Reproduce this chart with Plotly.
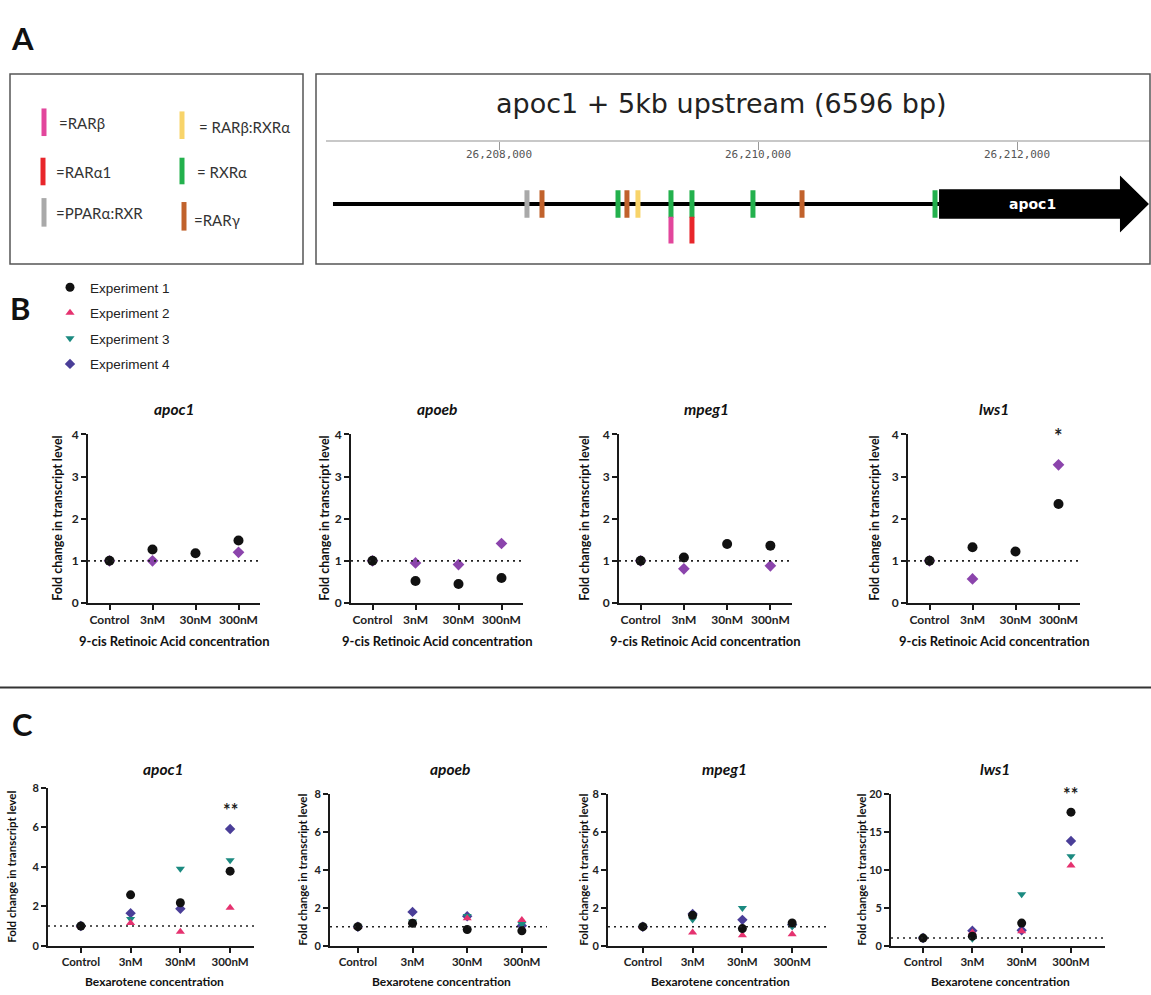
import plotly.graph_objects as go

W, H = 1151, 995
def PX(x):
    return x / W
def PY(y):
    return 1 - y / H

# ---------------- data ----------------
categories = ["Control", "3nM", "30nM", "300nM"]
genes = ["apoc1", "apoeb", "mpeg1", "lws1"]
experiments = ["Experiment 1", "Experiment 2", "Experiment 3", "Experiment 4"]

# B: 9-cis Retinoic Acid (fold change)
ra_apoc1_exp1 = [1.00, 1.27, 1.18, 1.48]
ra_apoc1_exp4 = [1.00, 1.00, None, 1.20]
ra_apoeb_exp1 = [1.00, 0.52, 0.45, 0.59]
ra_apoeb_exp4 = [1.00, 0.95, 0.91, 1.41]
ra_mpeg1_exp1 = [1.00, 1.08, 1.40, 1.36]
ra_mpeg1_exp4 = [1.00, 0.81, None, 0.88]
ra_lws1_exp1 = [1.00, 1.32, 1.22, 2.35]
ra_lws1_exp4 = [1.00, 0.57, None, 3.28]

# C: Bexarotene (fold change)
bex_apoc1_exp1 = [1.00, 2.58, 2.18, 3.78]
bex_apoc1_exp2 = [1.00, 1.15, 0.70, 1.93]
bex_apoc1_exp3 = [1.00, 1.35, 3.90, 4.33]
bex_apoc1_exp4 = [1.00, 1.65, 1.87, 5.92]
bex_apoeb_exp1 = [1.00, 1.18, 0.85, 0.78]
bex_apoeb_exp2 = [1.00, 1.22, 1.44, 1.35]
bex_apoeb_exp3 = [1.00, 1.28, 1.56, 1.14]
bex_apoeb_exp4 = [1.00, 1.78, 1.55, 1.05]
bex_mpeg1_exp1 = [1.00, 1.60, 0.90, 1.20]
bex_mpeg1_exp2 = [1.00, 0.69, 0.55, 0.60]
bex_mpeg1_exp3 = [1.00, 1.38, 1.98, 1.02]
bex_mpeg1_exp4 = [1.00, 1.67, 1.36, 1.10]
bex_lws1_exp1 = [1.00, 1.25, 2.97, 17.6]
bex_lws1_exp2 = [1.00, 1.72, 1.90, 10.56]
bex_lws1_exp3 = [1.00, 0.90, 6.77, 11.8]
bex_lws1_exp4 = [1.00, 1.98, 2.03, 13.8]

# significance labels (gene, category index, label)
ra_sig = [("lws1", 3, "*")]
bex_sig = [("apoc1", 3, "**"), ("lws1", 3, "**")]

# A: binding sites in apoc1 + 5kb upstream
region_start = 26206718
region_length = 6596
gene_name = "apoc1"
gene_start = 26211398
gene_end = 26213019
site_pos = [26208216, 26208332, 26208919, 26208988, 26209073, 26209328,
            26209328, 26209490, 26209490, 26209961, 26210340, 26211367]
site_factor = ["PPARα:RXR", "RARγ", "RXRα", "RARγ", "RARβ:RXRα", "RXRα",
               "RARβ", "RXRα", "RARα1", "RXRα", "RARγ", "RXRα"]
factor_names = ["RARβ", "RARα1", "PPARα:RXR", "RARβ:RXRα", "RXRα", "RARγ"]
factor_labels = ["=RARβ", "=RARα1", "=PPARα:RXR", "= RARβ:RXRα", "= RXRα", "=RARγ"]

# ---------------- styles ----------------
factor_colors = {"RARβ": "#e2469c", "RARα1": "#e8262b", "PPARα:RXR": "#a9a9a9",
                 "RARβ:RXRα": "#f8d46a", "RXRα": "#23b14d", "RARγ": "#c1622c"}
exp_symbols = ["circle", "triangle-up", "triangle-down", "diamond"]
exp_colors_b = ["#111111", "#e5326f", "#1b8a80", "#8b44ac"]
exp_colors_c = ["#111111", "#e5326f", "#1b8a80", "#4a3e98"]
size_b = [10, 8, 8, 9]
size_c = [9, 8, 8, 8]

TICKF = "Lato"
fig = go.Figure()

b_series = [
    [ra_apoc1_exp1, None, None, ra_apoc1_exp4],
    [ra_apoeb_exp1, None, None, ra_apoeb_exp4],
    [ra_mpeg1_exp1, None, None, ra_mpeg1_exp4],
    [ra_lws1_exp1, None, None, ra_lws1_exp4],
]
c_series = [
    [bex_apoc1_exp1, bex_apoc1_exp2, bex_apoc1_exp3, bex_apoc1_exp4],
    [bex_apoeb_exp1, bex_apoeb_exp2, bex_apoeb_exp3, bex_apoeb_exp4],
    [bex_mpeg1_exp1, bex_mpeg1_exp2, bex_mpeg1_exp3, bex_mpeg1_exp4],
    [bex_lws1_exp1, bex_lws1_exp2, bex_lws1_exp3, bex_lws1_exp4],
]

b_xdom = [(88, 260), (351, 523), (619, 792), (908, 1080)]
b_ydom = (433, 604)
c_xdom = [(48, 254), (330, 547), (608, 827), (891, 1105)]
c_ytop = [792, 798, 798, 798]
c_ybot = 952
c_xrange = [(-0.66, 3.48), (-0.51, 3.46), (-0.70, 3.70), (-0.65, 3.69)]
c_ymax = [8, 8, 8, 20]
c_dtick = [2, 2, 2, 5]
c_sig_shift = [-22, 0, 0, 0]
b_ytitle_x = [58, 325, 585, 875]
c_ytitle_x = [12, 303, 584, 862]
b_title_x = [174, 437, 706, 994]
c_title_x = [163, 450, 724, 995]

layout = dict(width=W, height=H, margin=dict(l=0, r=0, t=0, b=0),
              paper_bgcolor="white", plot_bgcolor="rgba(0,0,0,0)")
annotations = []
shapes = []

def note(text, x, y, size, family=TICKF, xanchor="center", yanchor="middle", **kw):
    font = dict(family=family, size=size, color=kw.pop("color", "#111"))
    for k in ("weight", "style"):
        if k in kw:
            font[k] = kw.pop(k)
    d = dict(text=text, x=x, y=y, xref=kw.pop("xref", "paper"), yref=kw.pop("yref", "paper"),
             xanchor=xanchor, yanchor=yanchor, showarrow=False, font=font)
    d.update(kw)
    annotations.append(d)

def cat_axis(dom, rng, anchor, fsize):
    return dict(domain=[PX(dom[0]), PX(dom[1])], range=list(rng), type="category",
                categoryorder="array", categoryarray=categories, anchor=anchor,
                showline=True, linecolor="#1a1a1a", linewidth=2, ticks="outside",
                ticklen=5, tickwidth=2, tickcolor="#1a1a1a", showgrid=False, zeroline=False,
                tickfont=dict(family=TICKF, size=fsize, color="#222", weight="bold"))

def val_axis(ydom, ymax, dtick, anchor, fsize):
    return dict(domain=[PY(ydom[1]), PY(ydom[0])], range=[0, ymax], dtick=dtick, tick0=0,
                anchor=anchor, showline=True, linecolor="#1a1a1a", linewidth=2,
                ticks="outside", ticklen=5, tickwidth=2, tickcolor="#1a1a1a",
                showgrid=False, zeroline=False,
                tickfont=dict(family=TICKF, size=fsize, color="#222", weight="bold"))

# ---- B panels ----
for i in range(4):
    n = i + 1
    xa, ya = ("x%d" % n if n > 1 else "x"), ("y%d" % n if n > 1 else "y")
    layout["xaxis%s" % ("" if n == 1 else n)] = cat_axis(b_xdom[i], (-0.5, 3.5), ya, 12)
    layout["yaxis%s" % ("" if n == 1 else n)] = val_axis(b_ydom, 4, 1, xa, 12)
    for e in [3, 2, 1, 0]:
        vals = b_series[i][e]
        if vals is None:
            continue
        fig.add_trace(go.Scatter(x=categories, y=vals, mode="markers", xaxis=xa, yaxis=ya,
                                 name=experiments[e], showlegend=False,
                                 marker=dict(symbol=exp_symbols[e], color=exp_colors_b[e],
                                             size=size_b[e], line=dict(width=0))))
    shapes.append(dict(type="line", xref="%s domain" % xa, yref=ya, x0=0, x1=1, y0=1, y1=1,
                       line=dict(color="#222", width=1.8, dash="2px,4px")))
    note(genes[i], PX(b_title_x[i]), PY(407), 15.5, weight="bold", style="italic")
    note("Fold change in transcript level", PX(b_ytitle_x[i]), PY((b_ydom[0] + b_ydom[1]) / 2),
         12.5, weight="bold", textangle=-90)
    note("9-cis Retinoic Acid concentration", PX((b_xdom[i][0] + b_xdom[i][1]) / 2), PY(643),
         13, weight="bold")
    for g, ci, lab in ra_sig:
        if g == genes[i]:
            note(lab, ci, 4, 20, xref=xa, yref=ya, yshift=-2, color="#222", weight="bold")

# ---- C panels ----
for i in range(4):
    n = i + 5
    xa, ya = "x%d" % n, "y%d" % n
    layout["xaxis%d" % n] = cat_axis(c_xdom[i], c_xrange[i], ya, 11.5)
    layout["xaxis%d" % n]["linewidth"] = 1.8
    layout["yaxis%d" % n] = val_axis((c_ytop[i], c_ybot), c_ymax[i], c_dtick[i], xa, 11)
    layout["yaxis%d" % n]["linewidth"] = 1.8
    for e in [3, 2, 1, 0]:
        fig.add_trace(go.Scatter(x=categories, y=c_series[i][e], mode="markers", xaxis=xa, yaxis=ya,
                                 name=experiments[e], legendgroup=experiments[e],
                                 legendrank=e + 1, showlegend=(i == 0),
                                 marker=dict(symbol=exp_symbols[e], color=exp_colors_c[e],
                                             size=size_c[e], line=dict(width=0))))
    shapes.append(dict(type="line", xref="%s domain" % xa, yref=ya, x0=0, x1=1, y0=1, y1=1,
                       line=dict(color="#222", width=1.6, dash="2px,4px")))
    note(genes[i], PX(c_title_x[i]), PY(773), 15.5, weight="bold", style="italic")
    note("Fold change in transcript level", PX(c_ytitle_x[i]), PY((c_ytop[i] + c_ybot) / 2),
         11.5, weight="bold", textangle=-90)
    note("Bexarotene concentration", PX((c_xdom[i][0] + c_xdom[i][1]) / 2 + 3), PY(988),
         12, weight="bold")
    for g, ci, lab in bex_sig:
        if g == genes[i]:
            note(lab, ci, c_ymax[i], 18, xref=xa, yref=ya, yshift=c_sig_shift[i], color="#222",
                 weight="bold")

# ---- A: genome track ----
bp_per_px = 2000 / 259.0
def bp_at(pxv):
    return 26210000 + (pxv - 758) * bp_per_px
gx0, gx1 = 326, 1150
layout["xaxis9"] = dict(domain=[PX(gx0), PX(gx1)], range=[bp_at(gx0), bp_at(gx1)], anchor="y9",
                        side="top", showline=True, linecolor="#c8c8c8", linewidth=2,
                        ticks="inside", ticklen=8, tickwidth=1.2, tickcolor="#999",
                        ticklabelposition="inside", dtick=2000, tick0=0, tickformat=",d",
                        showgrid=False, zeroline=False,
                        tickfont=dict(family="DejaVu Sans Mono", size=11, color="#555"))
layout["yaxis9"] = dict(domain=[PY(247), PY(136)], range=[111, 0], anchor="x9", visible=False,
                        showgrid=False, zeroline=False)

LINE_Y = 63
head_len = 29 * bp_per_px
head_start = gene_end - head_len
fig.add_trace(go.Scatter(x=[region_start, gene_start], y=[LINE_Y, LINE_Y], mode="lines",
                         xaxis="x9", yaxis="y9", showlegend=False,
                         line=dict(color="black", width=4)))
fig.add_trace(go.Scatter(x=[gene_start, head_start, head_start, gene_end, head_start, head_start, gene_start],
                         y=[LINE_Y - 15, LINE_Y - 15, LINE_Y - 29, LINE_Y, LINE_Y + 29, LINE_Y + 15, LINE_Y + 15],
                         mode="lines", fill="toself", fillcolor="black", line=dict(width=0, color="black"),
                         xaxis="x9", yaxis="y9", showlegend=False))
note("<b>%s</b>" % gene_name, (gene_start + head_start) / 2 + 3 * bp_per_px, LINE_Y, 14,
     family="DejaVu Sans", xref="x9", yref="y9", color="white")
seen = set()
for p, f in zip(site_pos, site_factor):
    lane = 1 if p in seen else 0
    seen.add(p)
    y0, y1 = (LINE_Y - 14, LINE_Y + 14) if lane == 0 else (LINE_Y + 13, LINE_Y + 40)
    shapes.append(dict(type="line", xref="x9", yref="y9", x0=p, x1=p, y0=y0, y1=y1,
                       line=dict(color=factor_colors[f], width=5)))

note("%s + 5kb upstream (%d bp)" % (gene_name, region_length), PX(721), PY(97), 27,
     family="DejaVu Sans", color="#222")

# ---- A: legend box ----
legA_pos = {"RARβ": (44, 102, 130, 57, 117), "RARα1": (43, 152, 180, 54, 167),
            "PPARα:RXR": (44, 193, 222, 54, 208), "RARβ:RXRα": (182, 105, 133, 197, 121),
            "RXRα": (182, 152, 179, 195, 167), "RARγ": (184, 197, 226, 192, 215)}
for name, lab in zip(factor_names, factor_labels):
    bx, y0, y1, tx, ty = legA_pos[name]
    shapes.append(dict(type="line", xref="paper", yref="paper", x0=PX(bx), x1=PX(bx),
                       y0=PY(y0), y1=PY(y1), line=dict(color=factor_colors[name], width=5)))
    note(lab, PX(tx), PY(ty), 15, xanchor="left", color="#333")

# boxes & separator
shapes.append(dict(type="rect", xref="paper", yref="paper", x0=PX(10), x1=PX(303), y0=PY(260), y1=PY(67),
                   line=dict(color="#555", width=1.5)))
shapes.append(dict(type="rect", xref="paper", yref="paper", x0=PX(316), x1=PX(1150), y0=PY(260), y1=PY(67),
                   line=dict(color="#555", width=1.5)))
shapes.append(dict(type="line", xref="paper", yref="paper", x0=0, x1=1, y0=PY(690), y1=PY(690),
                   line=dict(color="#333", width=2)))

for lab, x, y in [("A", 22, 30), ("B", 20, 305), ("C", 22, 727)]:
    note(lab, PX(x), PY(y), 31, weight="bold")

layout["annotations"] = annotations
layout["shapes"] = shapes
layout["showlegend"] = True
layout["legend"] = dict(x=PX(50), y=PY(268), xanchor="left", yanchor="top", traceorder="grouped",
                        tracegroupgap=5, bgcolor="rgba(0,0,0,0)",
                        font=dict(family="Liberation Sans", size=13.5, color="#222"))
fig.update_layout(**layout)
fig.write_html("out.html", config={"displayModeBar": False},
               post_script="document.body.style.margin='0';document.body.style.overflow='hidden';")
